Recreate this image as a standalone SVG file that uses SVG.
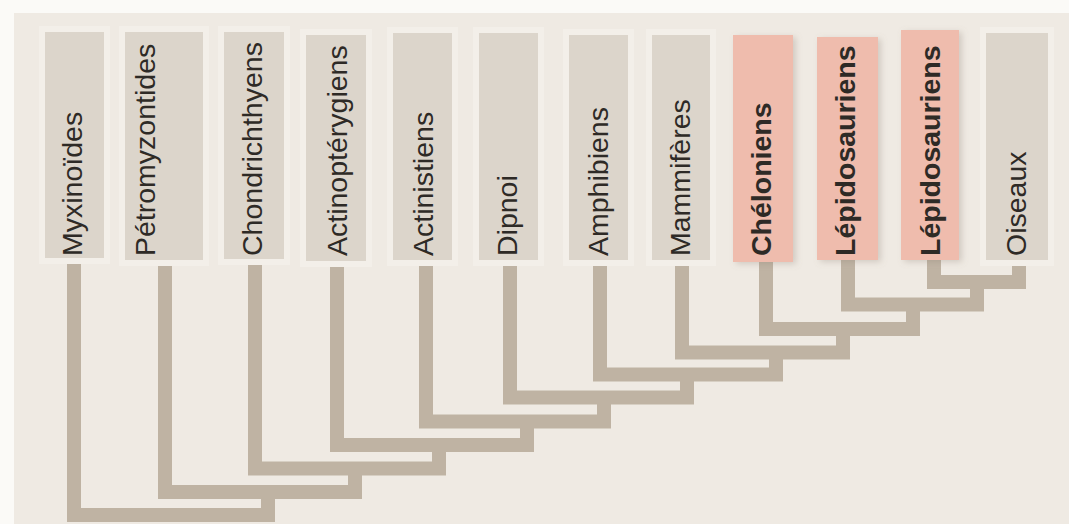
<svg xmlns="http://www.w3.org/2000/svg" width="1069" height="524" viewBox="0 0 1069 524">
  <defs>
    <filter id="shadow" x="-20%" y="-5%" width="150%" height="115%">
      <feDropShadow dx="3" dy="2" stdDeviation="3" flood-color="#8a7f72" flood-opacity="0.3"/>
    </filter>
    <style>
      .halo { fill: #f3efe9; }
      .box { fill: #dcd5cb; }
      .hl { fill: #efbcad; filter: url(#shadow); }
      .lbl { font-family: "Liberation Sans", Arial, sans-serif; font-size: 28.5px; fill: #2e2a26; text-anchor: start; }
      .b { font-weight: bold; }
      .conn { fill: none; stroke: #bfb3a3; stroke-width: 14; stroke-linejoin: miter; stroke-linecap: butt; }
    </style>
  </defs>

  <rect x="0" y="0" width="1069" height="524" fill="#fbfaf7"/>
  <rect x="14" y="13" width="1055" height="511" fill="#efeae3"/>

  <g id="connectors">
    <path class="conn" d="M934 260 V282 H1019 V260"/>
    <path class="conn" d="M848 260 V304.5 H977 V282"/>
    <path class="conn" d="M766 262 V329 H913 V304.5"/>
    <path class="conn" d="M682 260 V352.5 H843 V329"/>
    <path class="conn" d="M600 260 V374.5 H776 V352.5"/>
    <path class="conn" d="M510 260 V397.5 H687 V374.5"/>
    <path class="conn" d="M426 260 V421.5 H604 V397.5"/>
    <path class="conn" d="M337 261 V445 H527 V421.5"/>
    <path class="conn" d="M255 259 V468.5 H439 V445"/>
    <path class="conn" d="M165 260 V492 H355 V468.5"/>
    <path class="conn" d="M74 258 V515 H268 V492"/>
  </g>

  <g id="n-myxinoides">
    <rect class="halo" x="39" y="26" width="71" height="238"/>
    <rect class="box" x="45" y="32" width="59" height="226"/>
    <text class="lbl" transform="translate(82 256) rotate(-90)">Myxinoïdes</text>
  </g>
  <g id="n-petromyzontides">
    <rect class="halo" x="119" y="26" width="90" height="240"/>
    <rect class="box" x="125" y="32" width="78" height="228"/>
    <text class="lbl" transform="translate(155 256) rotate(-90)">Pétromyzontides</text>
  </g>
  <g id="n-chondrichthyens">
    <rect class="halo" x="218" y="26" width="72" height="239"/>
    <rect class="box" x="224" y="32" width="60" height="227"/>
    <text class="lbl" transform="translate(262 256) rotate(-90)">Chondrichthyens</text>
  </g>
  <g id="n-actinopterygiens">
    <rect class="halo" x="300" y="29" width="72" height="238"/>
    <rect class="box" x="306" y="35" width="60" height="226"/>
    <text class="lbl" transform="translate(347 256) rotate(-90)">Actinoptérygiens</text>
  </g>
  <g id="n-actinistiens">
    <rect class="halo" x="387" y="27" width="71" height="239"/>
    <rect class="box" x="393" y="33" width="59" height="227"/>
    <text class="lbl" transform="translate(433 256) rotate(-90)">Actinistiens</text>
  </g>
  <g id="n-dipnoi">
    <rect class="halo" x="473" y="27" width="71" height="239"/>
    <rect class="box" x="479" y="33" width="59" height="227"/>
    <text class="lbl" transform="translate(517 256) rotate(-90)">Dipnoi</text>
  </g>
  <g id="n-amphibiens">
    <rect class="halo" x="563" y="29" width="71" height="237"/>
    <rect class="box" x="569" y="35" width="59" height="225"/>
    <text class="lbl" transform="translate(608 256) rotate(-90)">Amphibiens</text>
  </g>
  <g id="n-mammiferes">
    <rect class="halo" x="646" y="29" width="70" height="237"/>
    <rect class="box" x="652" y="35" width="58" height="225"/>
    <text class="lbl" transform="translate(690 256) rotate(-90)">Mammifères</text>
  </g>
  <g id="n-cheloniens">
    <rect class="hl" x="733" y="35" width="60" height="227"/>
    <text class="lbl b" transform="translate(771 256) rotate(-90)">Chéloniens</text>
  </g>
  <g id="n-lepidosauriens-1">
    <rect class="hl" x="817" y="37" width="61" height="223"/>
    <text class="lbl b" transform="translate(855 256) rotate(-90)">Lépidosauriens</text>
  </g>
  <g id="n-lepidosauriens-2">
    <rect class="hl" x="901" y="30" width="58" height="230"/>
    <text class="lbl b" transform="translate(940 256) rotate(-90)">Lépidosauriens</text>
  </g>
  <g id="n-oiseaux">
    <rect class="halo" x="980" y="27" width="74" height="239"/>
    <rect class="box" x="986" y="33" width="62" height="227"/>
    <text class="lbl" transform="translate(1026 256) rotate(-90)">Oiseaux</text>
  </g>
</svg>
